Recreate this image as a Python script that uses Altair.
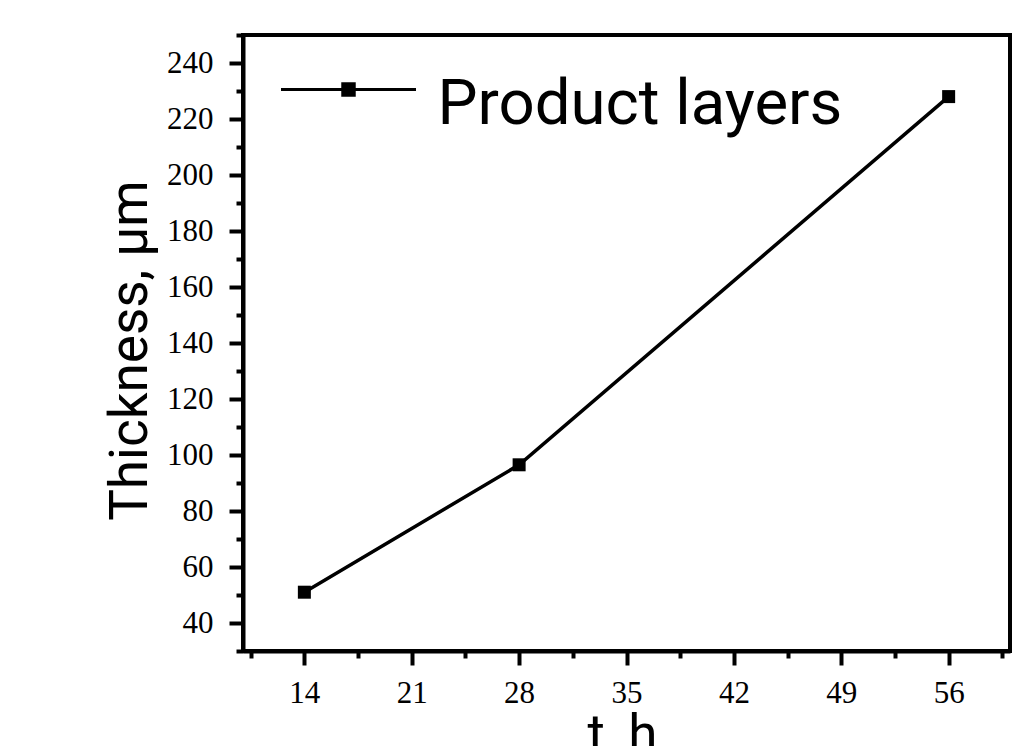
import altair as alt
import pandas as pd

# Data
time_h = [14, 28, 56]
thickness_um = [51, 96.5, 228]
series = ["Product layers", "Product layers", "Product layers"]

# Axis tick values (major + minor)
x_ticks = [10.5, 14, 17.5, 21, 24.5, 28, 31.5, 35, 38.5, 42, 45.5, 49, 52.5, 56, 59.5]
y_ticks = [30, 40, 50, 60, 70, 80, 90, 100, 110, 120, 130, 140, 150, 160, 170,
           180, 190, 200, 210, 220, 230, 240, 250]

df = pd.DataFrame({"t": time_h, "thk": thickness_um, "series": series})

x_enc = alt.X(
    "t:Q",
    scale=alt.Scale(domain=[10, 60], nice=False, zero=False),
    axis=alt.Axis(
        values=x_ticks,
        title="t, h",
        labelExpr="datum.value % 7 == 0 ? datum.label : ''",
        tickSize={"condition": {"test": "datum.value % 7 == 0", "value": 14}, "value": 7},
        labelPadding=13,
        labelBaseline="top",
        titleX=379,
        titleY=100,
        titleAlign="center",
        titleBaseline="alphabetic",
    ),
)
y_enc = alt.Y(
    "thk:Q",
    scale=alt.Scale(domain=[30, 250], nice=False, zero=False),
    axis=alt.Axis(
        values=y_ticks,
        title="Thickness, µm",
        labelExpr="datum.value % 20 == 0 ? datum.label : ''",
        tickSize={"condition": {"test": "datum.value % 20 == 0", "value": 14}, "value": 7},
        labelPadding=16,
        labelBaseline="middle",
        titleAngle=270,
        titleX=-113,
        titleY=315,
        titleAlign="center",
        titleBaseline="middle",
    ),
)

legend_path = "M-1,-0.228H1M-0.085,-0.313H0.085V-0.143H-0.085Z"

line = alt.Chart().mark_line(color="black", strokeWidth=3.5).encode(x=x_enc, y=y_enc)
points = alt.Chart().mark_point(filled=True, shape="square", size=169, opacity=1).encode(
    x=x_enc,
    y=y_enc,
    color=alt.Color(
        "series:N",
        scale=alt.Scale(range=["black"]),
        legend=alt.Legend(
            title=None,
            orient="none",
            legendX=36.5,
            legendY=1,
            symbolType=legend_path,
            symbolSize=18225,
            symbolStrokeWidth=3,
            symbolStrokeColor="black",
            symbolFillColor="black",
            symbolOpacity=1,
            labelFont="Roboto",
            labelFontSize=63.5,
            labelColor="black",
            labelOffset=20,
            labelLimit=0,
            padding=0,
        ),
    ),
)

chart = (
    alt.layer(line, points, data=df)
    .properties(
        width=767,
        height=616,
        autosize=alt.AutoSizeParams(type="none"),
        padding={"left": 243, "top": 35, "right": 14, "bottom": 95},
        background="white",
    )
    .configure_view(stroke="black", strokeWidth=4)
    .configure_axis(
        grid=False,
        domainColor="black",
        domainWidth=4,
        tickColor="black",
        tickWidth=4,
        labelFont="Liberation Serif",
        labelFontSize=31,
        labelColor="black",
        labelOverlap=False,
        labelFlush=False,
        titleFont="Roboto",
        titleFontSize=53,
        titleFontWeight="normal",
        titleColor="black",
    )
)

chart.save("out.html", embed_options={"renderer": "svg", "actions": False})
